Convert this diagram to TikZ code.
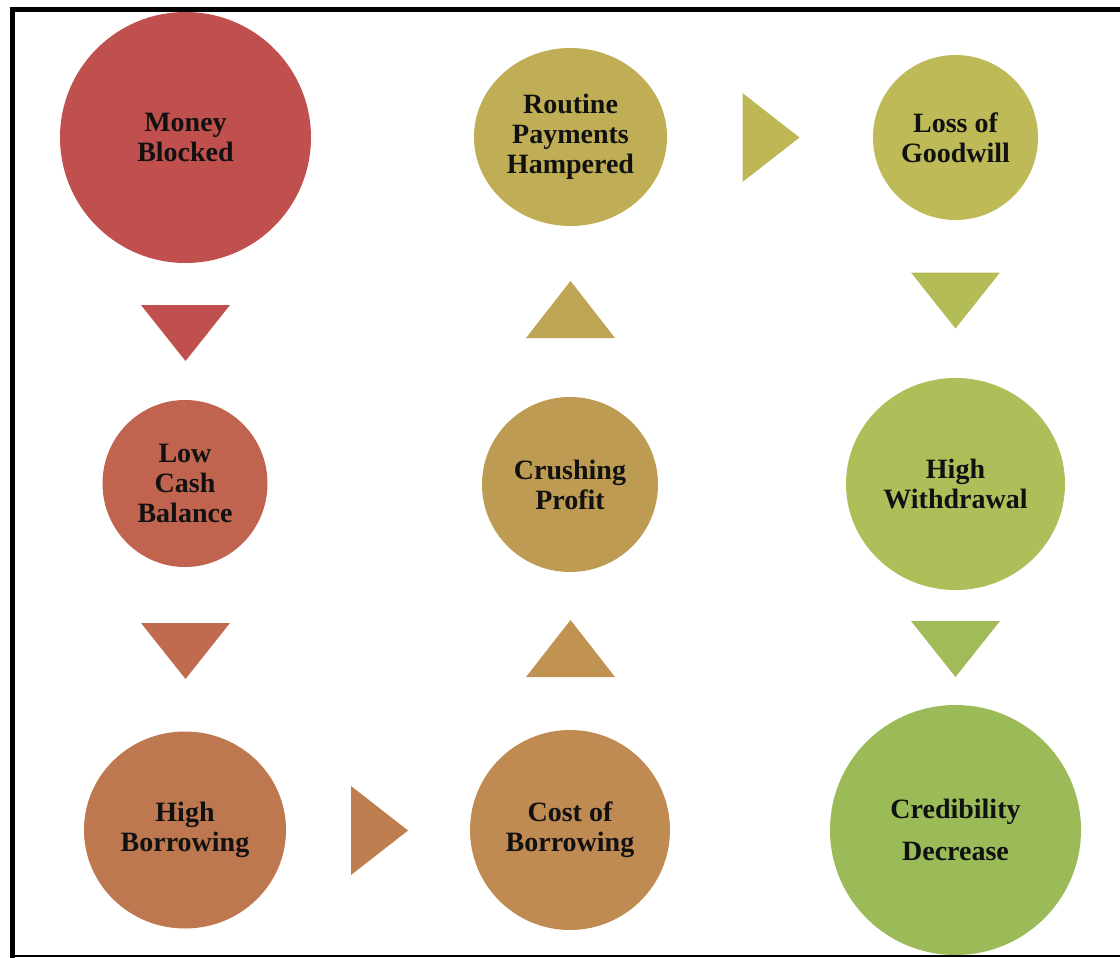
\documentclass[tikz,border=0pt]{standalone}
\usepackage{fontspec}
\setmainfont{Liberation Serif}
\usetikzlibrary{shapes.geometric}

% fill colours, shading from red through ochre to green
\definecolor{cMB}{HTML}{C0504D}
\definecolor{cLC}{HTML}{C06450}
\definecolor{cHB}{HTML}{BE7850}
\definecolor{cCB}{HTML}{C08A53}
\definecolor{cCP}{HTML}{BE9B52}
\definecolor{cRP}{HTML}{BFAE55}
\definecolor{cLG}{HTML}{BEBA58}
\definecolor{cHW}{HTML}{B0BE5A}
\definecolor{cCD}{HTML}{9BBB59}
\definecolor{tD1}{HTML}{C0504D}
\definecolor{tD2}{HTML}{C06A4F}
\definecolor{tR1}{HTML}{BF7E50}
\definecolor{tU1}{HTML}{C09352}
\definecolor{tU2}{HTML}{BEA553}
\definecolor{tR2}{HTML}{BDB756}
\definecolor{tD3}{HTML}{B4BC58}
\definecolor{tD4}{HTML}{A1BB59}
\definecolor{txt}{HTML}{111111}

\tikzset{
  blob/.style={ellipse, inner sep=0pt, draw=none, text=txt, align=center,
               font=\fontsize{28}{30}\selectfont\bfseries},
  pics/tridown/.style={code={\fill[#1] (-44.5,-28) -- (44.5,-28) -- (0,28) -- cycle;}},
  pics/triup/.style={code={\fill[#1] (-44.5,28.5) -- (44.5,28.5) -- (0,-28.5) -- cycle;}},
  pics/triright/.style={code={\fill[#1] (-28.5,-44.5) -- (-28.5,44.5) -- (28.5,0) -- cycle;}},
}

\begin{document}
\begin{tikzpicture}[x=1pt,y=-1pt]
\useasboundingbox (0,0) rectangle (1120,958);
\fill[white] (0,0) rectangle (1120,958);

% frame
\draw[line width=5pt] (12.5,7) -- (12.5,958);
\draw[line width=5pt] (10,9.5) -- (1120,9.5);
\draw[line width=2pt] (10,956) -- (1120,956);

% left column
\node[blob, fill=cMB, minimum width=251pt, minimum height=251pt] (mb) at (185.5,137.5) {Money\\Blocked};
\node[blob, fill=cLC, minimum width=165pt, minimum height=167pt] (lc) at (185,483.5) {Low\\Cash\\Balance};
\node[blob, fill=cHB, minimum width=202pt, minimum height=197pt] (hb) at (185,830) {High\\Borrowing};

% middle column
\node[blob, fill=cCB, minimum width=200pt, minimum height=200pt] (cb) at (570,830) {Cost of\\Borrowing};
\node[blob, fill=cCP, minimum width=176pt, minimum height=175pt] (cp) at (570,484.5) {Crushing\\Profit};
\node[blob, fill=cRP, minimum width=193pt, minimum height=178pt] (rp) at (570.5,137) {Routine\\Payments\\Hampered};

% right column
\node[blob, fill=cLG, minimum width=165pt, minimum height=165pt] (lg) at (955.5,137.5) {Loss of\\Goodwill};
\node[blob, fill=cHW, minimum width=219pt, minimum height=212pt] (hw) at (955.5,484) {High\\Withdrawal};
\node[blob, fill=cCD, minimum width=251pt, minimum height=250pt,
      font=\fontsize{28}{42}\selectfont\bfseries] (cd) at (955.5,830) {Credibility\\Decrease};

% flow markers
\pic at (185.5,333) {tridown=tD1};
\pic at (185.5,651) {tridown=tD2};
\pic at (379.5,830.5) {triright=tR1};
\pic at (570.5,648.5) {triup=tU1};
\pic at (570.5,309.5) {triup=tU2};
\pic at (771,137.5) {triright=tR2};
\pic at (955.5,300.5) {tridown=tD3};
\pic at (955.5,649) {tridown=tD4};
\end{tikzpicture}
\end{document}
